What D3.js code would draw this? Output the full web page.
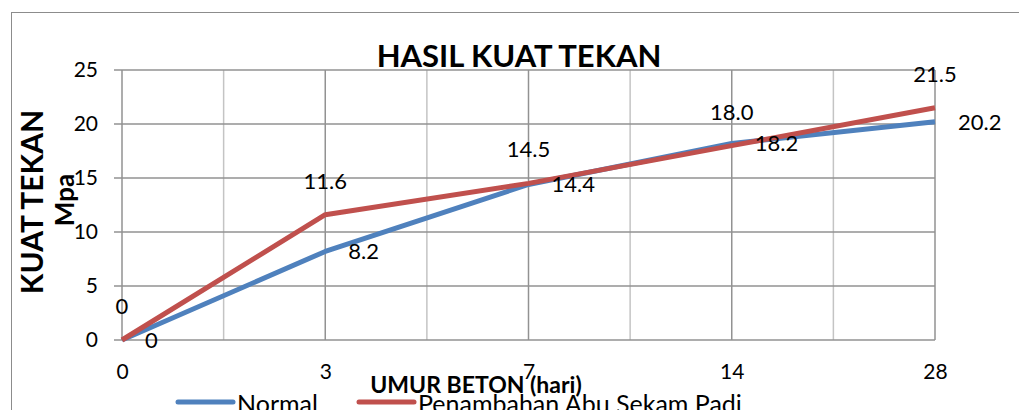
<!DOCTYPE html>
<html>
<head>
<meta charset="utf-8">
<script src="https://cdn.jsdelivr.net/npm/d3@7"></script>
<style>
  body { margin: 0; background: #fff; }
  svg { display: block; font-family: Lato, "Open Sans", sans-serif; }
</style>
</head>
<body>
<svg id="chart" width="1019" height="410"></svg>
<script>
// data
let umur = ["0", "3", "7", "14", "28"];
let normal = [0, 8.2, 14.4, 18.2, 20.2];
let abuSekam = [0, 11.6, 14.5, 18.0, 21.5];
let yTicks = [0, 5, 10, 15, 20, 25];

let series = [
    { name: "Normal", values: normal, color: "#4F81BD", label: "right" },
    { name: "Penambahan Abu Sekam Padi", values: abuSekam, color: "#C0504D", label: "above" }
];

function getConfig() {
    let margin = { top: 70, right: 84, bottom: 70, left: 122 },
        width = 1019 - margin.left - margin.right,
        height = 410 - margin.top - margin.bottom;
    let svg = d3.select("#chart");
    return { svg, margin, width, height };
}

function getScales(config) {
    let { margin, width, height } = config;
    let xScale = d3.scalePoint()
        .domain(umur)
        .range([margin.left, margin.left + width])
        .padding(0);
    let yScale = d3.scaleLinear()
        .domain([0, 25])
        .range([margin.top + height, margin.top]);
    return { xScale, yScale };
}

function drawFrame(config) {
    // outer chart border, runs off the bottom and right of the picture
    config.svg.append("rect")
        .attr("x", 11.5).attr("y", 12.5)
        .attr("width", 1100).attr("height", 600)
        .attr("fill", "none")
        .attr("stroke", "#8c8c8c")
        .attr("stroke-width", 1);
}

function drawGrid(config, scales) {
    let { svg } = config;
    let { xScale, yScale } = scales;
    let [y0, y1] = yScale.range();

    // minor vertical lines half way between categories
    let mids = d3.pairs(umur).map(p => (xScale(p[0]) + xScale(p[1])) / 2);
    svg.append("g").selectAll("line")
        .data(mids)
        .enter().append("line")
        .attr("x1", d => d).attr("x2", d => d)
        .attr("y1", y1).attr("y2", y0)
        .attr("stroke", "#c4c4c4")
        .attr("stroke-width", 1.5);

    // major vertical lines at categories
    svg.append("g").selectAll("line")
        .data(umur)
        .enter().append("line")
        .attr("x1", d => xScale(d)).attr("x2", d => xScale(d))
        .attr("y1", y1).attr("y2", y0)
        .attr("stroke", "#929292")
        .attr("stroke-width", 1.5);

    // horizontal lines
    let x0 = xScale(umur[0]), x1 = xScale(umur[umur.length - 1]);
    svg.append("g").selectAll("line")
        .data(yTicks)
        .enter().append("line")
        .attr("x1", x0 - 8).attr("x2", x1)
        .attr("y1", d => yScale(d)).attr("y2", d => yScale(d))
        .attr("stroke", "#929292")
        .attr("stroke-width", 1.5);
}

function drawAxes(config, scales) {
    let { svg } = config;
    let { xScale, yScale } = scales;

    let yAxis = d3.axisLeft(yScale).tickValues(yTicks).tickSize(0).tickPadding(24);
    let gy = svg.append("g")
        .attr("transform", "translate(" + xScale(umur[0]) + ",0)")
        .call(yAxis);
    gy.select(".domain").remove();
    gy.selectAll("text")
        .attr("font-family", "Lato, sans-serif")
        .attr("font-size", "21px")
        .attr("fill", "#000");

    let xAxis = d3.axisBottom(xScale).tickSize(0).tickPadding(24);
    let gx = svg.append("g")
        .attr("transform", "translate(0," + yScale(0) + ")")
        .call(xAxis);
    gx.select(".domain").remove();
    gx.selectAll("text")
        .attr("font-family", "Lato, sans-serif")
        .attr("font-size", "21px")
        .attr("fill", "#000");
}

function drawTitles(config) {
    let { svg } = config;
    svg.append("text")
        .attr("x", 519).attr("y", 67)
        .attr("text-anchor", "middle")
        .attr("font-weight", "bold")
        .attr("font-size", "31px")
        .text("HASIL KUAT TEKAN");

    svg.append("text")
        .attr("transform", "translate(43,202) rotate(-90)")
        .attr("text-anchor", "middle")
        .attr("font-weight", "bold")
        .attr("font-size", "30px")
        .text("KUAT TEKAN");
    svg.append("text")
        .attr("transform", "translate(74,200) rotate(-90)")
        .attr("text-anchor", "middle")
        .attr("font-weight", "bold")
        .attr("font-size", "26px")
        .text("Mpa");

    svg.append("text")
        .attr("x", 476).attr("y", 393)
        .attr("text-anchor", "middle")
        .attr("font-weight", "bold")
        .attr("font-size", "23px")
        .text("UMUR BETON (hari)");
}

function drawLines(config, scales) {
    let { svg } = config;
    let { xScale, yScale } = scales;
    let line = d3.line()
        .x((d, i) => xScale(umur[i]))
        .y(d => yScale(d));

    series.forEach(s => {
        svg.append("path")
            .datum(s.values)
            .attr("d", line)
            .attr("fill", "none")
            .attr("stroke", s.color)
            .attr("stroke-width", 5)
            .attr("stroke-linejoin", "round");
    });

    series.forEach(s => {
        svg.append("g").selectAll("text")
            .data(s.values)
            .enter().append("text")
            .attr("x", (d, i) => s.label === "right" ? xScale(umur[i]) + 23 : xScale(umur[i]))
            .attr("y", d => s.label === "right" ? yScale(d) : yScale(d) - 34)
            .attr("dy", "0.36em")
            .attr("text-anchor", s.label === "right" ? "start" : "middle")
            .attr("font-size", "22px")
            .attr("fill", "#000")
            .text((d, i) => i === 0 ? "0" : d.toFixed(1));
    });
}

function drawLegend(config) {
    let { svg } = config;
    let pos = [178, 359];
    let item = svg.append("g").selectAll("g")
        .data(series)
        .enter().append("g")
        .attr("transform", (d, i) => "translate(" + pos[i] + ",402)");
    item.append("line")
        .attr("x1", 0).attr("x2", 55)
        .attr("stroke", d => d.color)
        .attr("stroke-width", 5)
        .attr("stroke-linecap", "round");
    item.append("text")
        .attr("x", 59).attr("y", 11)
        .attr("font-size", "25px")
        .text(d => d.name);
}

function drawChart() {
    let config = getConfig();
    let scales = getScales(config);
    drawFrame(config);
    drawGrid(config, scales);
    drawAxes(config, scales);
    drawLines(config, scales);
    drawTitles(config);
    drawLegend(config);
}

drawChart();
</script>
</body>
</html>
